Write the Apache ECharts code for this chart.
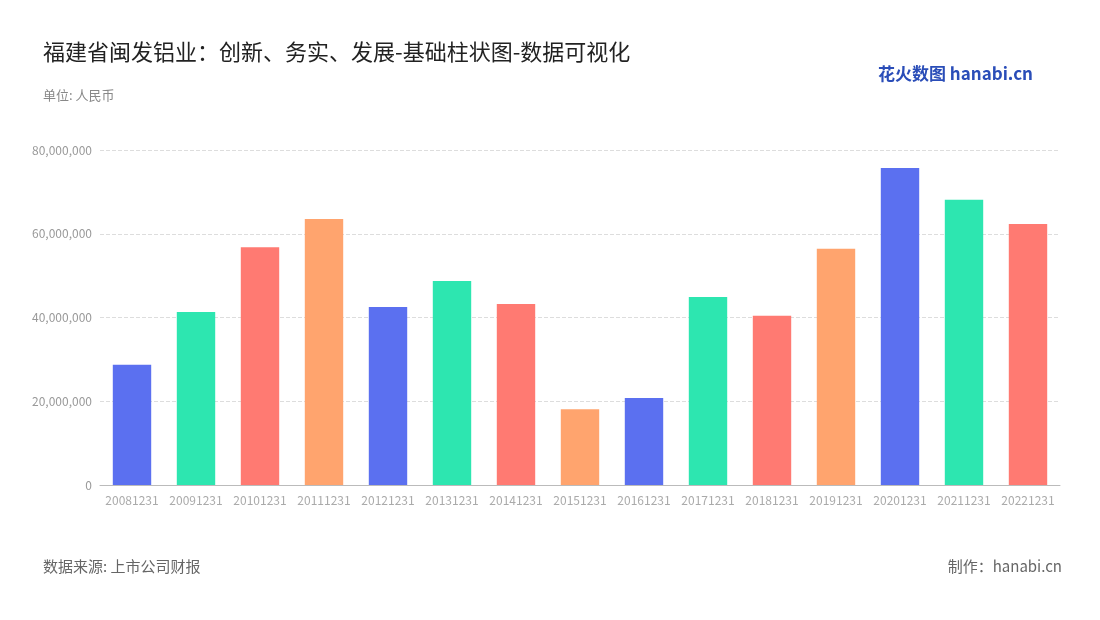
<!DOCTYPE html>
<html><head><meta charset="utf-8">
<script src="https://cdn.jsdelivr.net/npm/echarts@6/dist/echarts.min.js"></script>
<style>body{margin:0}#c{width:1100px;height:620px}</style></head>
<body><div id="c"></div>
<script>
const categories=['20081231','20091231','20101231','20111231','20121231','20131231','20141231','20151231','20161231','20171231','20181231','20191231','20201231','20211231','20221231'];
const values=[28700000,41300000,56800000,63500000,42500000,48700000,43200000,18100000,20800000,44900000,40400000,56400000,75700000,68100000,62300000];
const palette=['#5b70f0','#2de6b0','#ff7a72','#ffa46e'];
const yTicks=[0,20000000,40000000,60000000,80000000];
const chart=echarts.init(document.getElementById('c'));
const F='"Noto Sans CJK SC","Noto Sans",sans-serif';
chart.setOption({
 title:[{text:'福建省闽发铝业：创新、务实、发展-基础柱状图-数据可视化',left:38,top:36,textStyle:{fontSize:22,fontWeight:'normal',color:'#222',fontFamily:F}},
 {text:'单位: 人民币',left:38,top:84,textStyle:{fontSize:13,fontWeight:'normal',color:'#888',fontFamily:F}},
 {text:'数据来源: 上市公司财报',left:38,top:554,textStyle:{fontSize:15,fontWeight:'normal',color:'#666',fontFamily:F}},
 {text:'制作：hanabi.cn',right:33,top:554,textStyle:{fontSize:15,fontWeight:'normal',color:'#666',fontFamily:F}},
 {text:'花火数图 hanabi.cn',right:62,top:60,textStyle:{fontSize:17,fontWeight:'bold',color:'#2a4db8',fontFamily:F}}],
 grid:{left:100,right:40,top:150,bottom:135},
 xAxis:{type:'category',data:categories,axisLine:{lineStyle:{color:'#bbb'}},axisTick:{show:false},
  axisLabel:{color:'#aaa',fontSize:12,interval:0,margin:9,fontFamily:F}},
 yAxis:{type:'value',min:0,max:80000000,interval:20000000,
  axisLabel:{color:'#999',fontSize:12,fontFamily:F,formatter:v=>yTicks.includes(v)?v.toLocaleString('en-US'):''},
  splitLine:{lineStyle:{type:'dashed',color:'#ddd'}},axisLine:{show:false},axisTick:{show:false}},
 series:[{type:'bar',barWidth:'60%',data:values.map((v,i)=>({value:v,itemStyle:{color:palette[i%4]}}))}]
});
</script></body></html>
